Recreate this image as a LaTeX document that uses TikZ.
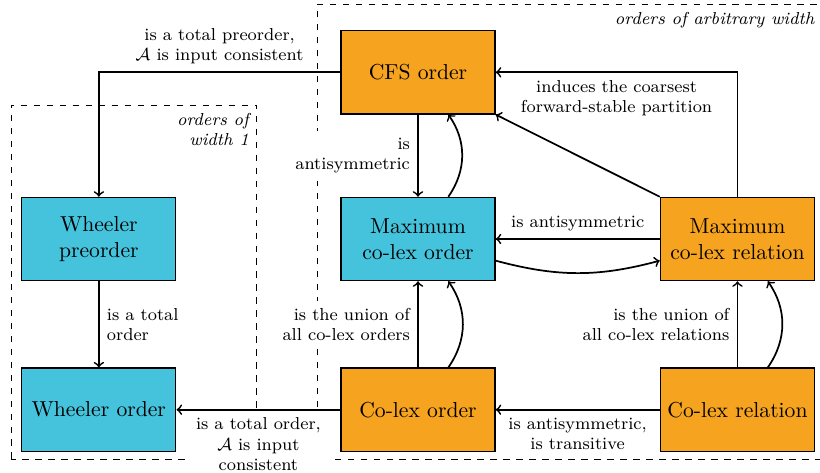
\documentclass[tikz,border=0pt]{standalone}
\usepackage{amsmath}
\usetikzlibrary{matrix,arrows}
\definecolor{cfsorange}{RGB}{246,163,31}
\definecolor{wheelerblue}{RGB}{70,195,220}
\tikzset{
  ordbox/.style={draw=black, semithick, minimum width=2.5cm, minimum height=1.35cm, align=center},
  orangebox/.style={ordbox, fill=cfsorange},
  bluebox/.style={ordbox, fill=wheelerblue},
  lbl/.style={font=\footnotesize, fill=white, align=center},
  region/.style={dashed, thin},
  regionlbl/.style={font=\footnotesize\itshape, align=right, anchor=north east}
}

\begin{document}
\begin{tikzpicture}[thick]
  \useasboundingbox (-193.07pt,-107.62pt) rectangle (185.68pt,110.39pt);
  \draw[region] (-188pt,-101.6pt) rectangle (-74.4pt,61.9pt);
  \node[regionlbl] at (-74.4pt,61.9pt) {orders of\\width 1};
  \draw[region] (-46.65pt,-101.6pt) rectangle (186.8pt,108.5pt);
  \node[regionlbl] at (186.8pt,108.5pt) {orders of arbitrary width};
  \matrix (m) [row sep=1.4cm, column sep=2.66cm, matrix anchor=maxord.center] at (0,0) {
    & \node[orangebox] (cfs) {CFS order}; & \\[-1.85pt]
    \node[bluebox] (wpre) {Wheeler\\preorder}; & \node[bluebox] (maxord) {Maximum\\co-lex order}; & \node[orangebox] (maxrel) {Maximum\\co-lex relation}; \\
    \node[bluebox] (word) {Wheeler order}; & \node[orangebox] (cord) {Co-lex order}; & \node[orangebox] (crel) {Co-lex relation}; \\
  };
  \draw[->] (cfs) -| node[lbl, pos=0.25, above] {is a total preorder,\\$\mathcal{A}$ is input consistent} (wpre);
  \draw[->] (maxrel) |- node[lbl, pos=0.75, below] {induces the coarsest\\forward-stable partition} (cfs);
  \path[->] (cfs) edge node[lbl, left, align=right] {is\\antisymmetric} (maxord)
            ([xshift=14pt]maxord.north) edge[bend right=35] ([xshift=14pt]cfs.south)
            (maxrel.north west) edge (cfs.south east)
            (maxrel) edge node[lbl, above] {is antisymmetric} (maxord)
            ([yshift=-10pt]maxord.east) edge[bend right=15] ([yshift=-10pt]maxrel.west)
            (wpre) edge node[lbl, right, align=left] {is a total\\order} (word)
            (cord) edge node[lbl, left, align=right] {is the union of\\all co-lex orders} (maxord)
            ([xshift=14pt]cord.north) edge[bend right=35] ([xshift=14pt]maxord.south)
            (crel) edge node[lbl, left, align=right] {is the union of\\all co-lex relations} (maxrel)
            ([xshift=14pt]crel.north) edge[bend right=35] ([xshift=14pt]maxrel.south)
            (crel) edge node[lbl, below] {is antisymmetric,\\is transitive} (cord)
            (cord) edge node[lbl, below] {is a total order,\\$\mathcal{A}$ is input\\consistent} (word);
\end{tikzpicture}
\end{document}
